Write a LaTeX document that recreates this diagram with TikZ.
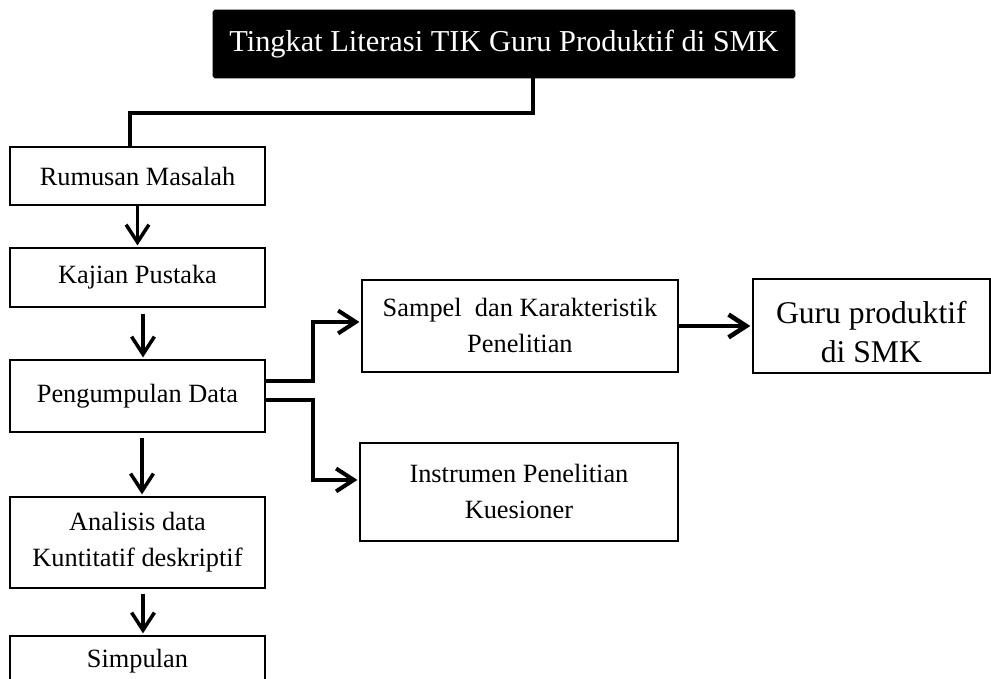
\documentclass[tikz,border=0pt]{standalone}
\usepackage{fontspec}
\setmainfont{Liberation Serif}
\usetikzlibrary{positioning, arrows.meta}

\tikzset{
  box/.style={draw, line width=0.9pt, align=center, minimum width=5.1cm,
    font=\fontsize{15}{20.5}\selectfont},
  big/.style={font=\fontsize{18}{22}\selectfont},
  judulbox/.style={fill=black, draw=black, rounded corners=1pt, text=white,
    minimum width=11.64cm, minimum height=1.36cm, font=\fontsize{17.3}{20}\selectfont},
  link/.style={line width=2pt},
  arr/.style={link, -{Straight Barb[length=10pt,width=13pt]}, shorten >=1pt},
}

\begin{document}
\begin{tikzpicture}[x=0.02cm, y=-0.02cm, node distance=2cm, on grid]
  \useasboundingbox (0,0) rectangle (991,679);
  \node[judulbox] (judul) at (504,44) {Tingkat Literasi TIK Guru Produktif di SMK};
  \node[box, minimum height=1.16cm] (rumusan) at (137.5,176) {Rumusan Masalah};
  \node[box, minimum height=1.18cm] (kajian) [below=2.03cm of rumusan] {Kajian Pustaka};
  \node[box, minimum height=1.44cm] (pengumpulan) [below=2.37cm of kajian] {Pengumpulan Data};
  \node[box, minimum height=1.82cm] (analisis) [below=2.93cm of pengumpulan] {Analisis data\\ Kuntitatif deskriptif};
  \node[box, minimum height=1cm] (simpulan) [below=2.37cm of analisis] {Simpulan};
  \node[box, minimum width=6.32cm, minimum height=1.84cm] (sampel)
    [above right=1.4cm and 7.65cm of pengumpulan] {Sampel\ \ dan Karakteristik\\ Penelitian};
  \node[box, minimum width=6.36cm, minimum height=1.96cm] (instrumen)
    [below right=1.92cm and 7.63cm of pengumpulan] {Instrumen Penelitian\\ Kuesioner};
  \node[box, big, minimum width=4.74cm, minimum height=1.88cm] (guru)
    [right=7.03cm of sampel] {\rule{0pt}{0.7cm}Guru produktif\\ di SMK};

  % alur utama
  \draw[link, line width=2.3pt] ([xshift=0.58cm]judul.south) -- ++(0,-0.7cm) -| ([xshift=-0.15cm]rumusan.north);
  \draw[arr] (rumusan) -- (kajian);
  \draw[arr, shorten <=0.12cm] ([xshift=0.11cm]kajian.south) -- ([xshift=0.11cm]pengumpulan.north);
  \draw[arr, shorten <=0.1cm] ([xshift=0.09cm]pengumpulan.south) -- ([xshift=0.09cm]analisis.north);
  \draw[arr, shorten <=0.1cm] ([xshift=0.11cm]analisis.south) -- ([xshift=0.11cm]simpulan.north);

  % cabang ke kanan
  \draw[arr, line width=2.3pt] ([yshift=0.3cm]pengumpulan.east) -- ++(0.94cm,0) |- ([yshift=0.08cm]sampel.west);
  \draw[arr, line width=2.3pt] ([yshift=-0.08cm]pengumpulan.east) -- ++(0.94cm,0) |- ([yshift=0.24cm]instrumen.west);
  \draw[arr, line width=2.6pt] (sampel) -- (guru);
\end{tikzpicture}
\end{document}
